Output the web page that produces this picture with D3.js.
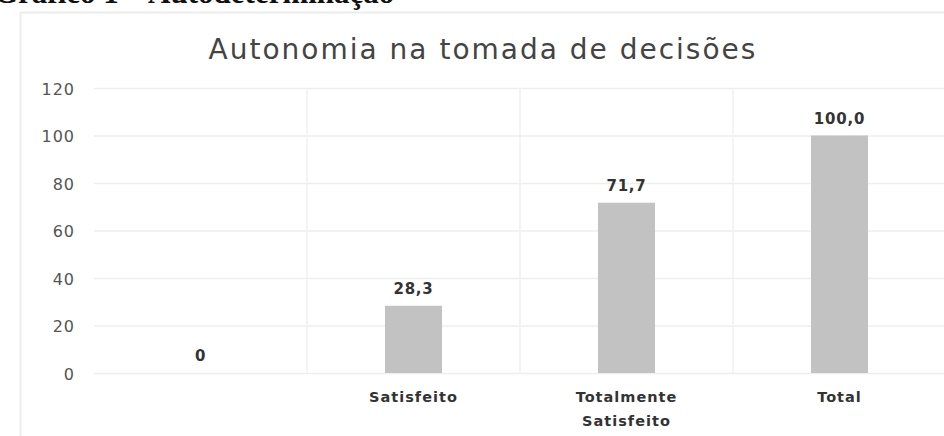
<!DOCTYPE html>
<html>
<head>
<meta charset="utf-8">
<script src="https://cdn.jsdelivr.net/npm/d3@7"></script>
<style>
  body { margin: 0; background: #fff; }
  svg { display: block; }
</style>
</head>
<body>
<svg id="chart"></svg>
<script>
// data
const categories = ["", "Satisfeito", "Totalmente\nSatisfeito", "Total"];
const values = [0, 28.3, 71.7, 100.0];
const valueLabels = ["0", "28,3", "71,7", "100,0"];
const yTicks = [0, 20, 40, 60, 80, 100, 120];

function drawChart() {
  const width = 944;
  const height = 436;

  const svg = d3.select("#chart")
    .attr("width", width)
    .attr("height", height);

  // figure caption, cut off at the top like in the scan
  svg.append("text")
    .attr("x", -6)
    .attr("y", 3)
    .attr("font-family", "Liberation Serif, serif")
    .attr("font-weight", "bold")
    .attr("font-size", 31)
    .attr("fill", "#111")
    .text("Gráfico 1 – Autodeterminação");

  // chart frame (very faint)
  svg.append("rect")
    .attr("x", 20.5).attr("y", 12.5)
    .attr("width", 940).attr("height", 440)
    .attr("fill", "none")
    .attr("stroke", "#ececec")
    .attr("stroke-width", 2);

  const x = d3.scaleBand()
    .domain(d3.range(categories.length))
    .range([94, 946])
    .paddingInner(0)
    .paddingOuter(0);

  const y = d3.scaleLinear()
    .domain([0, 120])
    .range([373, 88]);

  // horizontal gridlines
  svg.append("g")
    .selectAll("line")
    .data(yTicks)
    .join("line")
    .attr("x1", 94).attr("x2", 944)
    .attr("y1", d => y(d) + 0.5).attr("y2", d => y(d) + 0.5)
    .attr("stroke", "#eeeeee")
    .attr("stroke-width", 1.5);

  // vertical gridlines at category boundaries
  svg.append("g")
    .selectAll("line")
    .data(d3.range(1, categories.length))
    .join("line")
    .attr("x1", d => x(d)).attr("x2", d => x(d))
    .attr("y1", y(120)).attr("y2", y(0))
    .attr("stroke", "#f0f0f0")
    .attr("stroke-width", 1.5);

  // y axis labels
  const yAxis = d3.axisLeft(y).tickValues(yTicks).tickSize(0).tickPadding(0);
  const gy = svg.append("g")
    .attr("transform", "translate(75,1)")
    .call(yAxis);
  gy.select(".domain").remove();
  gy.selectAll("text")
    .attr("font-family", "DejaVu Sans, sans-serif")
    .attr("font-size", 16)
    .attr("letter-spacing", 1)
    .attr("fill", "#555");

  // bars
  const barW = 57;
  svg.append("g")
    .selectAll("rect")
    .data(values)
    .join("rect")
    .attr("x", (d, i) => x(i) + x.bandwidth() / 2 - barW / 2)
    .attr("y", d => y(d))
    .attr("width", barW)
    .attr("height", d => y(0) - y(d))
    .attr("fill", "#c2c2c2");

  // value labels
  svg.append("g")
    .selectAll("text")
    .data(values)
    .join("text")
    .attr("x", (d, i) => x(i) + x.bandwidth() / 2)
    .attr("y", d => y(d) - 12)
    .attr("text-anchor", "middle")
    .attr("font-family", "DejaVu Sans, sans-serif")
    .attr("font-weight", "bold")
    .attr("font-size", 15)
    .attr("letter-spacing", 0.8)
    .attr("fill", "#333")
    .text((d, i) => valueLabels[i]);

  // category labels
  const cat = svg.append("g")
    .selectAll("text")
    .data(categories)
    .join("text")
    .attr("x", (d, i) => x(i) + x.bandwidth() / 2)
    .attr("y", 402)
    .attr("text-anchor", "middle")
    .attr("font-family", "DejaVu Sans, sans-serif")
    .attr("font-weight", "bold")
    .attr("font-size", 14.5)
    .attr("letter-spacing", 1)
    .attr("fill", "#333");
  cat.each(function(d) {
    const t = d3.select(this);
    d.split("\n").forEach((line, k) => {
      t.append("tspan")
        .attr("x", t.attr("x"))
        .attr("dy", k === 0 ? 0 : 24)
        .text(line);
    });
  });

  // title
  svg.append("text")
    .attr("x", 483)
    .attr("y", 59)
    .attr("text-anchor", "middle")
    .attr("font-family", "DejaVu Sans, sans-serif")
    .attr("font-size", 28)
    .attr("letter-spacing", 2)
    .attr("fill", "#444")
    .text("Autonomia na tomada de decisões");
}

drawChart();
</script>
</body>
</html>
